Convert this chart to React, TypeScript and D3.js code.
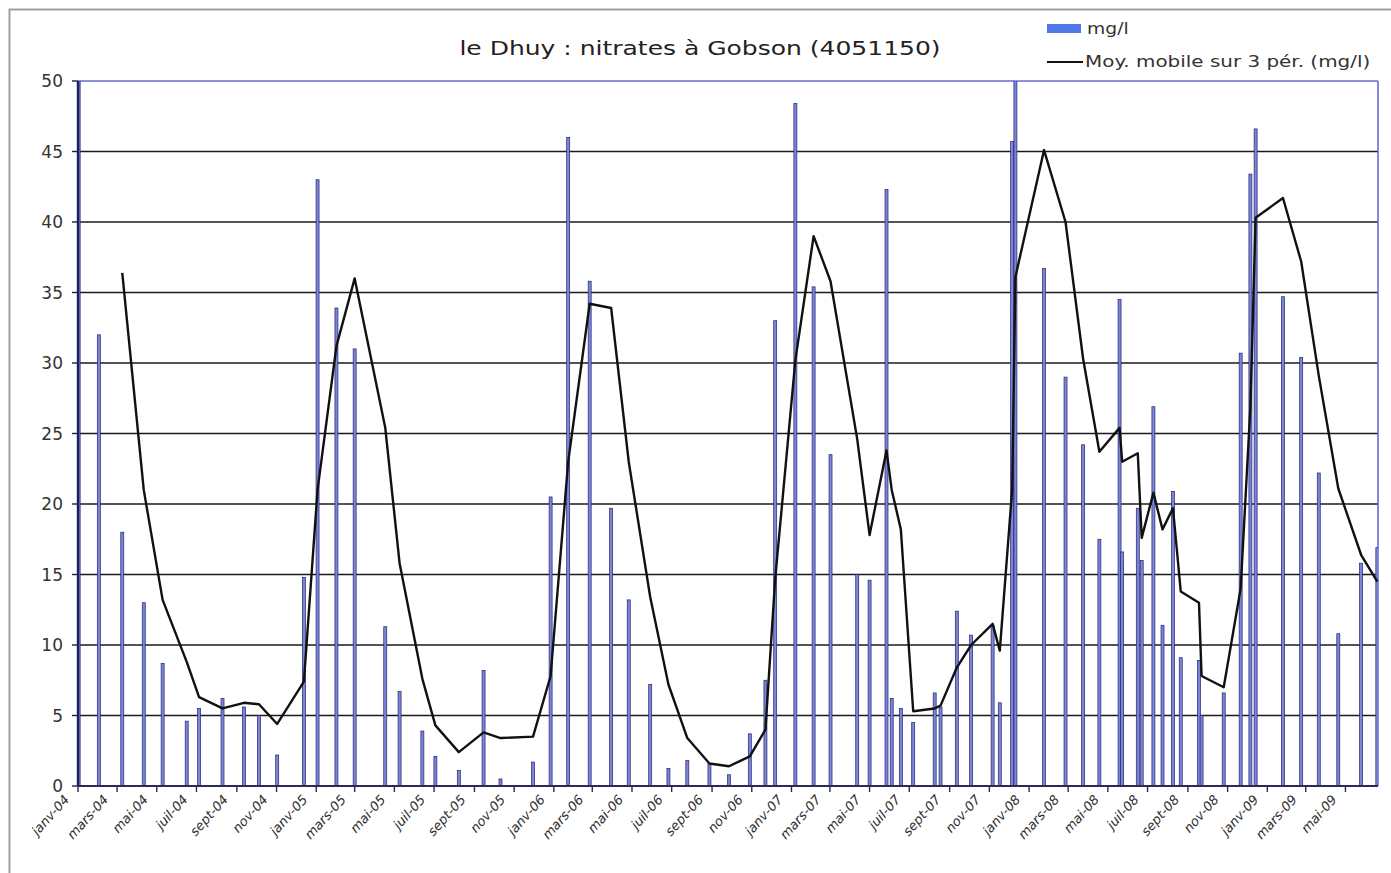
import { useEffect, useRef } from 'react'
import * as d3 from 'd3'

const sampleDates = [
  '2004-01-02', '2004-02-02', '2004-03-09', '2004-04-11', '2004-05-10', '2004-06-16',
  '2004-07-05', '2004-08-10', '2004-09-12', '2004-10-05', '2004-11-02', '2004-12-13',
  '2005-01-03', '2005-02-01', '2005-03-01', '2005-04-17', '2005-05-09', '2005-06-13',
  '2005-07-03', '2005-08-08', '2005-09-15', '2005-10-11', '2005-11-30', '2005-12-27',
  '2006-01-23', '2006-02-25', '2006-03-30', '2006-04-26', '2006-05-29', '2006-06-26',
  '2006-07-25', '2006-08-28', '2006-09-27', '2006-10-29', '2006-11-22', '2006-12-07',
  '2007-01-07', '2007-02-04', '2007-03-02', '2007-04-12', '2007-05-01', '2007-05-27',
  '2007-06-04', '2007-06-18', '2007-07-07', '2007-08-09', '2007-08-18', '2007-09-12',
  '2007-10-04', '2007-11-06', '2007-11-17', '2007-12-06', '2007-12-11', '2008-01-24',
  '2008-02-26', '2008-03-24', '2008-04-18', '2008-05-19', '2008-05-23', '2008-06-16',
  '2008-06-22', '2008-07-10', '2008-07-24', '2008-08-09', '2008-08-21', '2008-09-18',
  '2008-09-22', '2008-10-26', '2008-11-21', '2008-12-06', '2008-12-14', '2009-01-25',
  '2009-02-22', '2009-03-21', '2009-04-20', '2009-05-25', '2009-06-19'
]

const nitrateValues = [
  59, 32, 18, 13.0, 8.7, 4.6,
  5.5, 6.2, 5.6, 5.0, 2.2, 14.8,
  43, 33.9, 31, 11.3, 6.7, 3.9,
  2.1, 1.1, 8.2, 0.5, 1.7, 20.5,
  46, 35.8, 19.7, 13.2, 7.2, 1.25,
  1.8, 1.6, 0.8, 3.7, 7.5, 33,
  48.4, 35.4, 23.5, 15.0, 14.6, 42.3,
  6.2, 5.5, 4.5, 6.6, 5.6, 12.4,
  10.7, 11.4, 5.9, 45.7, 56.7, 36.7,
  29.0, 24.2, 17.5, 34.5, 16.6, 19.7,
  16.0, 26.9, 11.4, 20.9, 9.1, 8.9,
  5.0, 6.6, 30.7, 43.4, 46.6, 34.7,
  30.4, 22.2, 10.8, 15.8, 16.9
]

// "Moy. mobile sur 3 pér." as drawn (no value for the first two dates)
const movingAvgValues = [
  null, null, 36.4, 21.0, 13.2, 8.8,
  6.3, 5.5, 5.9, 5.8, 4.4, 7.4,
  21, 31.2, 36.0, 25.4, 15.8, 7.6,
  4.3, 2.4, 3.8, 3.4, 3.5, 7.8,
  23, 34.2, 33.9, 23, 13.4, 7.2,
  3.4, 1.6, 1.4, 2.1, 4.0, 14.7,
  30.2, 39.0, 35.8, 24.6, 17.8, 23.8,
  21.0, 18.2, 5.3, 5.5, 5.7, 8.4,
  10.0, 11.5, 9.6, 21.0, 36.1, 45.1,
  40.0, 30.3, 23.7, 25.4, 23.0, 23.6,
  17.6, 20.8, 18.2, 19.7, 13.8, 13.0,
  7.8, 7.0, 14.0, 26.9, 40.3, 41.7,
  37.2, 29.1, 21.1, 16.4, 14.5
]

const yTicks = [0, 5, 10, 15, 20, 25, 30, 35, 40, 45, 50]
const monthNames = ['janv', 'févr', 'mars', 'avr', 'mai', 'juin', 'juil', 'août', 'sept', 'oct', 'nov', 'déc']
const axisStart = '2004-01-01'
const axisEnd = '2009-06-20'

const title = 'le Dhuy : nitrates à Gobson (4051150)'
const barLegend = 'mg/l'
const lineLegend = 'Moy. mobile sur 3 pér. (mg/l)'

export default function App() {
  const svgRef = useRef<SVGSVGElement>(null)

  useEffect(() => {
    if (!svgRef.current) return
    const svg = d3.select(svgRef.current)
    svg.selectAll('*').remove()

    const W = 1391
    const H = 873
    const plot = { left: 78, right: 1378, top: 81, bottom: 786 }
    const font = '"DejaVu Sans", Verdana, sans-serif'
    const parse = d3.timeParse('%Y-%m-%d')

    const data = sampleDates.map((d, i) => ({
      date: parse(d) as Date,
      value: nitrateValues[i],
      avg: movingAvgValues[i]
    }))

    const x = d3.scaleTime()
      .domain([parse(axisStart) as Date, parse(axisEnd) as Date])
      .range([plot.left, plot.right])

    const y = d3.scaleLinear()
      .domain([0, 50])
      .range([plot.bottom, plot.top])

    svg.attr('width', W).attr('height', H)

    svg.append('rect')
      .attr('width', W).attr('height', H)
      .attr('fill', '#ffffff')

    // chart area border (runs off the right and bottom of the picture)
    svg.append('rect')
      .attr('x', 9.5).attr('y', 9.5)
      .attr('width', 1420).attr('height', 900)
      .attr('fill', 'none')
      .attr('stroke', '#a0a0a0')
      .attr('stroke-width', 2)

    svg.append('defs').append('clipPath')
      .attr('id', 'plot-clip')
      .append('rect')
      .attr('x', plot.left).attr('y', plot.top)
      .attr('width', plot.right - plot.left)
      .attr('height', plot.bottom - plot.top)

    // grid lines
    svg.append('g')
      .selectAll('line')
      .data(yTicks.filter(t => t > 0 && t < 50))
      .enter().append('line')
      .attr('x1', plot.left).attr('x2', plot.right)
      .attr('y1', d => y(d)).attr('y2', d => y(d))
      .attr('stroke', '#1a1a1a')
      .attr('stroke-width', 1.4)

    // plot area frame: top and right edges are bluish
    svg.append('line')
      .attr('x1', plot.left).attr('x2', plot.right)
      .attr('y1', y(50)).attr('y2', y(50))
      .attr('stroke', '#6a6ad8').attr('stroke-width', 1.6)
    svg.append('line')
      .attr('x1', plot.right).attr('x2', plot.right)
      .attr('y1', plot.top).attr('y2', plot.bottom)
      .attr('stroke', '#6a6ad8').attr('stroke-width', 1.6)

    // bars
    const bars = svg.append('g').attr('clip-path', 'url(#plot-clip)')
    bars.selectAll('rect')
      .data(data)
      .enter().append('rect')
      .attr('x', d => x(d.date) - 1.5)
      .attr('width', 3)
      .attr('y', d => y(d.value))
      .attr('height', d => y(0) - y(d.value))
      .attr('fill', '#7b86d8')
      .attr('stroke', '#22246e')
      .attr('stroke-width', 0.7)

    // moving average
    const avgLine = d3.line<{ date: Date; avg: number | null }>()
      .defined(d => d.avg != null)
      .x(d => x(d.date))
      .y(d => y(d.avg as number))

    svg.append('path')
      .datum(data)
      .attr('d', avgLine)
      .attr('fill', 'none')
      .attr('stroke', '#111111')
      .attr('stroke-width', 2.4)
      .attr('stroke-linejoin', 'round')

    // y axis
    const yAxis = svg.append('g')
    yAxis.append('line')
      .attr('x1', plot.left).attr('x2', plot.left)
      .attr('y1', plot.top).attr('y2', plot.bottom)
      .attr('stroke', '#1e1e5a').attr('stroke-width', 2.4)
    yAxis.selectAll('.ytick')
      .data(yTicks)
      .enter().append('line')
      .attr('class', 'ytick')
      .attr('x1', plot.left - 6).attr('x2', plot.left)
      .attr('y1', d => y(d)).attr('y2', d => y(d))
      .attr('stroke', '#1e1e5a').attr('stroke-width', 1.4)
    yAxis.selectAll('text')
      .data(yTicks)
      .enter().append('text')
      .attr('x', plot.left - 15)
      .attr('y', d => y(d))
      .attr('dy', '0.36em')
      .attr('text-anchor', 'end')
      .style('font-family', font)
      .style('font-size', '17px')
      .style('fill', '#333333')
      .text(d => d)

    // x axis, a tick every two months
    const ticks = d3.timeMonth.every(2)!.range(parse(axisStart) as Date, parse(axisEnd) as Date)
    const xAxis = svg.append('g')
    xAxis.append('line')
      .attr('x1', plot.left).attr('x2', plot.right)
      .attr('y1', plot.bottom).attr('y2', plot.bottom)
      .attr('stroke', '#2a2a55').attr('stroke-width', 1.8)
    xAxis.selectAll('.xtick')
      .data(ticks)
      .enter().append('line')
      .attr('class', 'xtick')
      .attr('x1', d => x(d)).attr('x2', d => x(d))
      .attr('y1', plot.bottom).attr('y2', plot.bottom + 6)
      .attr('stroke', '#2a2a55').attr('stroke-width', 1.4)
    xAxis.selectAll('text')
      .data(ticks)
      .enter().append('text')
      .attr('transform', d => `translate(${x(d) - 8},${plot.bottom + 14}) rotate(-48)`)
      .attr('text-anchor', 'end')
      .style('font-family', font)
      .style('font-size', '13px')
      .style('font-style', 'italic')
      .style('fill', '#2e2e2e')
      .text(d => `${monthNames[d.getMonth()]}-${d3.timeFormat('%y')(d)}`)

    // title (the source is stretched sideways)
    svg.append('text')
      .attr('transform', 'translate(700,55) scale(1.25,1)')
      .attr('text-anchor', 'middle')
      .style('font-family', font)
      .style('font-size', '20px')
      .style('fill', '#222222')
      .text(title)

    // legend
    const legend = svg.append('g')
    legend.append('rect')
      .attr('x', 1047).attr('y', 24)
      .attr('width', 34).attr('height', 9)
      .attr('fill', '#4f79e8')
    legend.append('text')
      .attr('transform', 'translate(1087,34) scale(1.25,1)')
      .style('font-family', font)
      .style('font-size', '15px')
      .style('fill', '#333333')
      .text(barLegend)
    legend.append('line')
      .attr('x1', 1047).attr('x2', 1083)
      .attr('y1', 62).attr('y2', 62)
      .attr('stroke', '#111111').attr('stroke-width', 2)
    legend.append('text')
      .attr('transform', 'translate(1085,67) scale(1.33,1)')
      .style('font-family', font)
      .style('font-size', '15px')
      .style('fill', '#333333')
      .text(lineLegend)
  }, [])

  return (
    <svg ref={svgRef} style={{ position: 'absolute', left: 0, top: 0, display: 'block' }}></svg>
  )
}
